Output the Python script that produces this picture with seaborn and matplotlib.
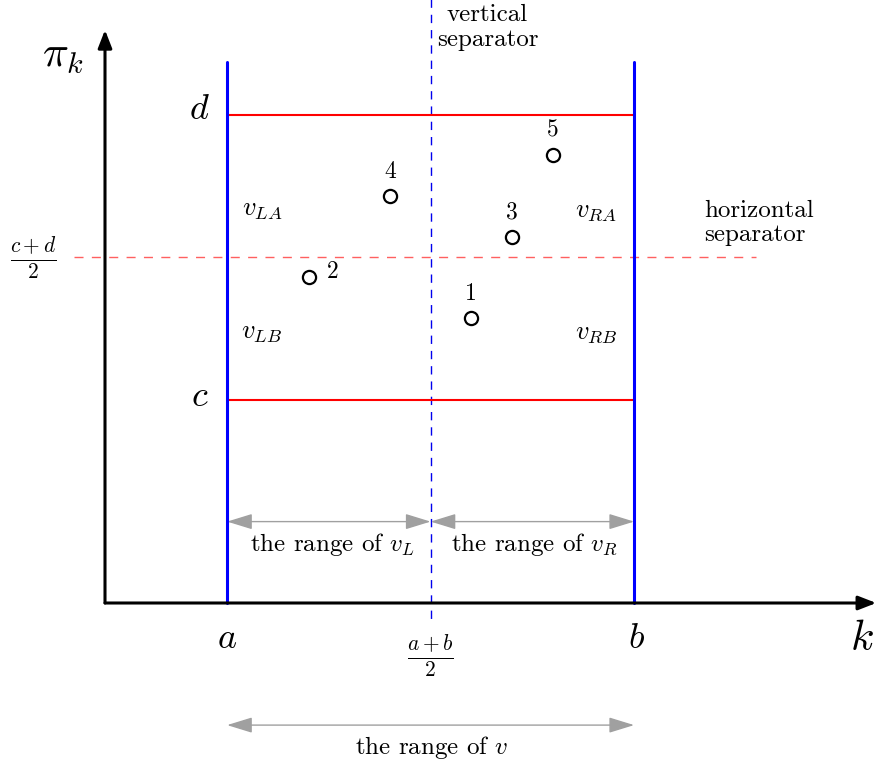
import matplotlib
matplotlib.use("Agg")
import matplotlib.pyplot as plt
import seaborn as sns
import pandas as pd

sns.set_theme(style="white")
plt.rcParams["font.family"] = ["cmr10", "DejaVu Serif"]
plt.rcParams["mathtext.fontset"] = "cm"
plt.rcParams["axes.formatter.use_mathtext"] = True
plt.rcParams["text.color"] = "black"

# ---- data ----
a, b = 3, 13
c, d = 5, 12
point_ids = ["1", "2", "3", "4", "5"]
point_k = [9, 5, 10, 7, 11]
point_pi = [7, 8, 9, 10, 11]
region_labels = ["$v_{LA}$", "$v_{LB}$", "$v_{RA}$", "$v_{RB}$"]

df = pd.DataFrame({"k": point_k, "pi": point_pi, "id": point_ids})

s = 40.7  # pixels per unit
W, H = 876, 762
ox, oy = 105, 603
fig = plt.figure(figsize=(W / 100, H / 100), dpi=100)
ax = fig.add_axes([0, 0, 1, 1])
ax.set_xlim(-ox / s, (W - ox) / s)
ax.set_ylim(-(H - oy) / s, oy / s)
ax.axis("off")

mid_x = (a + b) / 2
mid_y = (c + d) / 2

# dashed separators
ax.plot([mid_x, mid_x], [15, -0.5], color="#0000ee", lw=1.0, dashes=(6, 5), zorder=1)
ax.plot([-0.75, 16], [mid_y, mid_y], color="#ff6060", lw=1.0, dashes=(6.5, 6), zorder=1)

# red bounds
ax.plot([a, b], [d, d], color="red", lw=1.5, zorder=2)
ax.plot([a, b], [c, c], color="red", lw=1.5, zorder=2)
# blue bounds
ax.plot([a, a], [0, 13.3], color="blue", lw=2.2, zorder=3)
ax.plot([b, b], [0, 13.3], color="blue", lw=2.2, zorder=3)

# axes arrows
ax.annotate("", xy=(18.95, 0), xytext=(0, 0),
            arrowprops=dict(arrowstyle="-|>,head_length=0.9,head_width=0.35", color="black",
                            lw=2.2, shrinkA=0, shrinkB=0), zorder=4)
ax.annotate("", xy=(0, 14.08), xytext=(0, 0),
            arrowprops=dict(arrowstyle="-|>,head_length=0.9,head_width=0.35", color="black",
                            lw=2.2, shrinkA=0, shrinkB=0), zorder=4)

# range arrows
gray = "#a0a0a0"
def rarrow(x0, x1, y):
    ax.annotate("", xy=(x1, y), xytext=(x0, y),
                arrowprops=dict(arrowstyle="<|-|>,head_length=1.3,head_width=0.4", color=gray,
                                lw=1.0, shrinkA=0, shrinkB=0), zorder=2)
rarrow(a, mid_x, 2)
rarrow(mid_x, b, 2)
rarrow(a, b, -3)

# points
sns.scatterplot(data=df, x="k", y="pi", ax=ax, s=90, marker="o", facecolor="white",
                edgecolor="black", linewidth=1.6, zorder=5, legend=False)
for k_, p_, t in zip(point_k, point_pi, point_ids):
    if t == "2":
        ax.text(k_ + 0.6, p_ + 0.13, t, fontsize=17, ha="center", va="center")
    else:
        ax.text(k_, p_ + 0.6, t, fontsize=17, ha="center", va="center")

# region labels
rfs = 19
ax.text(3.86, 9.66, region_labels[0], fontsize=rfs, ha="center", va="center")
ax.text(3.86, 6.63, region_labels[1], fontsize=rfs, ha="center", va="center")
ax.text(12.06, 9.63, region_labels[2], fontsize=rfs, ha="center", va="center")
ax.text(12.06, 6.63, region_labels[3], fontsize=rfs, ha="center", va="center")

# axis labels
big = 26
ax.text(-1.03, 13.4, r"$\pi_k$", fontsize=31, ha="center", va="center")
ax.text(18.6, -0.9, r"$k$", fontsize=31, ha="center", va="center")
ax.text(2.33, 12.1, r"$d$", fontsize=big, ha="center", va="center")
ax.text(2.33, 5.06, r"$c$", fontsize=big, ha="center", va="center")
ax.text(a, -0.9, r"$a$", fontsize=big, ha="center", va="center")
ax.text(b + 0.05, -0.9, r"$b$", fontsize=big, ha="center", va="center")
ax.text(mid_x, -1.28, r"$\frac{a+b}{2}$", fontsize=22, ha="center", va="center")
ax.text(-1.77, 8.48, r"$\frac{c+d}{2}$", fontsize=22, ha="center", va="center")

# annotation texts
tfs = 18
ax.text(9.4, 14.15, "vertical\nseparator", fontsize=tfs, ha="center", va="center", linespacing=1.15)
ax.text(14.73, 9.34, "horizontal\nseparator", fontsize=tfs, ha="left", va="center", linespacing=1.15)
ax.text(5.58, 1.43, "the range of $v_L$", fontsize=tfs, ha="center", va="center")
ax.text(10.54, 1.43, "the range of $v_R$", fontsize=tfs, ha="center", va="center")
ax.text(8.03, -3.54, "the range of $v$", fontsize=tfs, ha="center", va="center")

fig.savefig("out.png", dpi=100)
